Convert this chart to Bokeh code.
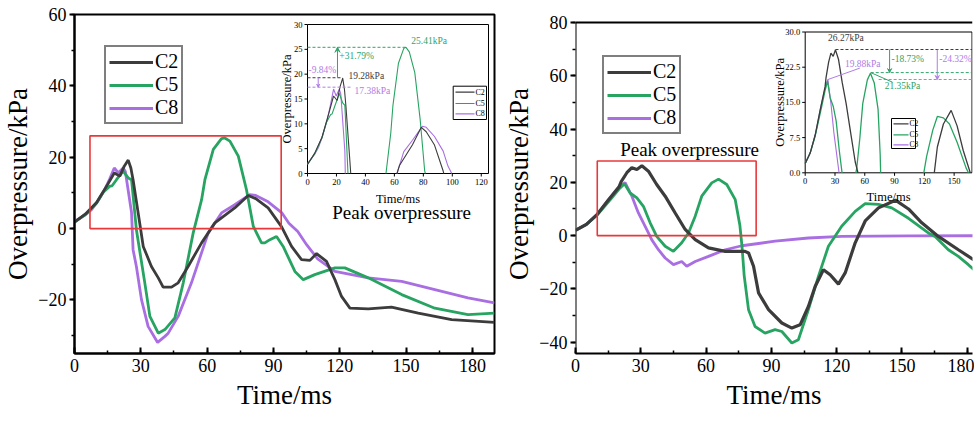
import numpy as np
from bokeh.plotting import figure
from bokeh.models import (Range1d, SingleIntervalTicker, Legend, LegendItem,
                          Arrow, VeeHead, Label, Span)
from bokeh.layouts import row
from bokeh.embed import file_html
from bokeh.resources import INLINE
from bokeh.core.properties import value

FONT = "Liberation Serif"
COL = {"C2": "#3c3c3c", "C5": "#27a462", "C8": "#a96fe2"}
ANN_GREEN = "#2fa36a"
ANN_PURPLE = "#b07de4"
RED = "#e8383a"

SERIES = ["C2", "C5", "C8"]

# ---------------- left panel data (Time/ms, Overpressure/kPa) ----------------
tL_c2 = [0, 5, 10, 15, 18, 20.5, 22.5, 24.3, 25.5, 26.5, 28.8, 31.1, 34.8, 37.9, 40.1, 43.9,
         46.9, 51.4, 57.5, 63.5, 72.5, 78.6, 82, 87.6, 93.7, 98.2, 102.7, 106.5, 109.5, 114,
         117.8, 120.8, 124.6, 132.9, 143.4, 155.5, 170.6, 190]
vL_c2 = [1.8, 4.1, 7.3, 12.4, 15.6, 14.7, 17.5, 19.2, 17.0, 13.7, 4.4, -5.0, -10.6, -13.8, -16.4, -16.4,
         -15.2, -10.6, -4.0, 1.6, 5.8, 9.3, 8.4, 5.8, 0.5, -5.0, -8.7, -8.9, -7.0, -9.2,
         -14.3, -19.0, -22.3, -22.5, -22.0, -23.7, -25.5, -26.3]

tL_c5 = [0, 5, 10, 13, 16, 17, 19, 22, 24.3, 25.8, 28, 31.8, 34.1, 37.9, 40.9, 45.4, 49.2,
         53.7, 57.5, 59, 62.8, 66.5, 68, 70.3, 74.1, 77.8, 80.9, 84.6, 86.1, 88.4, 91.4, 94.4,
         99.7, 103.5, 108.7, 117.8, 122.3, 132.9, 148, 163, 178, 190]
vL_c5 = [1.8, 4.0, 7.2, 10.2, 11.9, 12.0, 13.7, 16.1, 14.2, 13.7, -0.3, -15.2, -24.6, -29.3, -28.3, -25.0, -15.2,
         -1.2, 8.1, 13.7, 22.2, 25.2, 25.4, 24.5, 20.3, 10.9, 0.6, -4.0, -4.0, -3.1, -2.2, -5.0,
         -12.0, -14.3, -12.9, -11.0, -11.0, -13.8, -18.5, -22.3, -24.1, -23.7]

tL_c8 = [0, 5, 7.7, 10, 13.7, 16, 18, 19.8, 22, 23, 25.8, 26.5, 28, 30.3, 33.3, 37.6, 40.9,
         42.4, 46.9, 52.9, 60.5, 66.5, 72.5, 79.3, 82, 87.6, 93.7, 97, 101, 105, 110, 117.8,
         132.9, 148, 163, 178, 190]
vL_c8 = [2.0, 3.9, 5.3, 7.2, 10.9, 14.0, 17.0, 15.6, 17.0, 16.0, 4.5, -5.9, -10.6, -19.9, -27.4, -31.9, -30.2,
         -29.3, -24.6, -15.2, -1.2, 4.4, 6.7, 9.5, 9.3, 7.5, 4.5, 1.5, -0.8, -4.5, -8.5, -12.0,
         -13.8, -14.8, -17.1, -19.4, -20.8]

# ---------------- right panel data ----------------
tR_c2 = [0, 5, 10, 15, 20, 21, 23.6, 25.9, 28.2, 30.5, 33.5, 37.3, 41.2, 45.8, 50.4, 55, 61.1,
         68.8, 77.9, 79.5, 81.8, 84.1, 88.7, 94.8, 99.4, 103.2, 107, 110.1, 113.9, 117, 120.8,
         123.9, 128.5, 133.1, 139.2, 147, 153, 159.1, 166.7, 175.9, 186.6]
vR_c2 = [2.0, 4.2, 8.0, 13.3, 18.3, 20.3, 23.6, 25.5, 24.8, 26.2, 24.2, 19.2, 14.8, 8.5, 2.3, -1.5, -4.6,
         -5.9, -5.9, -6.5, -11.5, -21.5, -27.8, -32.8, -34.7, -33.5, -26.6, -19.1, -12.8, -14.7, -18.2,
         -14.0, -2.7, 5.5, 10.4, 13.3, 10.0, 4.8, -0.3, -5.3, -11.0]

tR_c5 = [0, 5, 10, 12.1, 16.7, 20, 22.5, 25.1, 28.2, 31.2, 34.3, 37.3, 41.2, 45, 48.8, 51.9, 55,
         58, 62.6, 65.7, 69.5, 73.4, 75.5, 76.5, 77.5, 79.5, 82.5, 87.1, 91.7, 94.8, 99.4, 102.4,
         107, 111.6, 116.2, 122.3, 128.5, 133.1, 139.2, 145.3, 153, 162.1, 165.2, 171.3, 175.9,
         180.5, 186.6]
vR_c5 = [2.0, 4.2, 7.8, 9.8, 14.2, 17.5, 19.5, 16.0, 14.2, 11.0, 4.8, -0.3, -4.0, -5.9, -2.7, 1.0, 7.3,
         14.8, 19.8, 21.2, 19.2, 13.5, 4.0, -4.0, -15.0, -27.8, -34.1, -36.6, -35.3, -36.0, -40.3, -39.1,
         -27.8, -15.3, -4.0, 3.5, 9.1, 12.0, 11.7, 10.4, 6.5, 1.0, -0.3, -5.3, -7.8,
         -10.9, -15.5]

tR_c8 = [0, 5, 10.6, 15.2, 19.8, 22.8, 25.9, 28.9, 33.5, 35, 38.1, 41.2, 45, 48.8, 51.1, 55,
         61.1, 68.8, 76.4, 91.7, 107, 122.3, 153, 186.6]
vR_c8 = [2.0, 4.2, 8.5, 13.5, 17.9, 19.9, 14.8, 8.5, 1.0, -1.5, -5.3, -8.4, -10.9, -9.7, -11.5, -9.7,
         -7.8, -5.3, -3.8, -2.1, -0.9, -0.3, -0.1, -0.05]

# peak annotations of the insets
PEAK_L = {"C2": 19.28, "C5": 25.41, "C8": 17.38}
PCT_L = {"C5": "+31.79%", "C8": "-9.84%"}
PEAK_R = {"C2": 26.27, "C5": 21.35, "C8": 19.88}
PCT_R = {"C5": "-18.73%", "C8": "-24.32%"}

# axis ticks / limits
INSET_L_XTICKS = [0, 20, 40, 60, 80, 100, 120]
INSET_L_YTICKS = [0, 5, 10, 15, 20, 25, 30]
INSET_R_XTICKS = [0, 30, 60, 90, 120, 150]
INSET_R_YTICKS = [0, 7.5, 15, 22.5, 30]
YLIM_R = (-45, 80)


def pos_part(t, v):
    xs, ys = [], []
    for i in range(len(t)):
        if i > 0 and ((v[i - 1] > 0) != (v[i] > 0)):
            tc = t[i - 1] + (0 - v[i - 1]) * (t[i] - t[i - 1]) / (v[i] - v[i - 1])
            xs.append(tc); ys.append(0.0)
            if v[i] <= 0:
                xs.append(np.nan); ys.append(np.nan)
        if v[i] > 0:
            xs.append(t[i]); ys.append(v[i])
    return xs, ys


def make_main(fw, fh, xr, yr, bl, bt, br, bb):
    p = figure(frame_width=fw, frame_height=fh, x_range=Range1d(*xr), y_range=Range1d(*yr),
               output_backend="svg", toolbar_location=None,
               min_border_left=bl, min_border_top=bt, min_border_right=br, min_border_bottom=bb)
    p.xgrid.visible = False
    p.ygrid.visible = False
    p.outline_line_color = "black"
    p.outline_line_width = 2
    p.outline_line_alpha = 1
    p.xaxis.ticker = SingleIntervalTicker(interval=30, num_minor_ticks=2)
    p.yaxis.ticker = SingleIntervalTicker(interval=20, num_minor_ticks=2)
    for ax in (p.xaxis[0], p.yaxis[0]):
        ax.axis_line_width = 2
        ax.major_tick_line_width = 2
        ax.minor_tick_line_width = 1.5
        ax.major_label_text_font = FONT
        ax.major_label_text_font_size = "18px"
        ax.major_label_text_color = "black"
        ax.axis_label_text_font = FONT
        ax.axis_label_text_font_size = "27px"
        ax.axis_label_text_font_style = "normal"
        ax.axis_label_text_color = "black"
    xa = p.xaxis[0]
    xa.major_tick_in = 6; xa.major_tick_out = 0
    xa.minor_tick_in = 3; xa.minor_tick_out = 0
    xa.major_label_standoff = 5
    xa.axis_label_standoff = 5
    xa.axis_label = "Time/ms"
    ya = p.yaxis[0]
    ya.major_tick_in = 0; ya.major_tick_out = 5
    ya.minor_tick_in = 0; ya.minor_tick_out = 3
    ya.major_label_standoff = 3
    ya.axis_label_standoff = 2
    ya.axis_label = "Overpressure/kPa"
    return p


def inset_ranges(p, fw, fh, px_l, px_r, px_b, px_t, xr, yr, name):
    x0, x1 = xr
    y0, y1 = yr
    sx = (x1 - x0) / (px_r - px_l)
    sy = (y1 - y0) / (px_t - px_b)
    p.extra_x_ranges[name + "x"] = Range1d(x0 - px_l * sx, x1 + (fw - px_r) * sx)
    p.extra_y_ranges[name + "y"] = Range1d(y0 - px_b * sy, y1 + (fh - px_t) * sy)
    return dict(x_range_name=name + "x", y_range_name=name + "y")


def pixel_range(p, fw, fh, name):
    # frame-relative pixel coordinates (origin at the frame's bottom-left corner)
    p.extra_x_ranges[name + "x"] = Range1d(0, fw)
    p.extra_y_ranges[name + "y"] = Range1d(0, fh)
    return dict(x_range_name=name + "x", y_range_name=name + "y")


def draw_inset_axes(p, rn, xr, yr, xticks, yticks, xlab, ylab, xlab_off, ylab_off):
    p.quad(left=[xr[0]], right=[xr[1]], bottom=[yr[0]], top=[yr[1]], fill_alpha=0,
           line_color="black", line_width=1, **rn)
    p.ray(x=xticks, y=[yr[0]] * len(xticks), length=3, angle=-np.pi / 2, length_units="screen",
          line_color="black", line_width=1, **rn)
    p.ray(x=[xr[0]] * len(yticks), y=yticks, length=3, angle=np.pi, length_units="screen",
          line_color="black", line_width=1, **rn)
    p.text(x=xticks, y=[yr[0]] * len(xticks), text=xlab, y_offset=5, text_align="center",
           text_baseline="top", text_font=value(FONT), text_font_size=value("8.5px"),
           text_color="black", **rn)
    p.text(x=[xr[0]] * len(yticks), y=yticks, text=ylab, x_offset=-5, text_align="right",
           text_baseline="middle", text_font=value(FONT), text_font_size=value("8.5px"),
           text_color="black", **rn)
    p.text(x=[(xr[0] + xr[1]) / 2], y=[yr[0]], text=["Time/ms"], y_offset=xlab_off,
           text_align="center", text_baseline="middle", text_font=value(FONT),
           text_font_size=value("12.5px"), text_color="black", **rn)
    p.text(x=[xr[0]], y=[(yr[0] + yr[1]) / 2], text=["Overpressure/kPa"], x_offset=-ylab_off,
           angle=np.pi / 2, text_align="center", text_baseline="middle", text_font=value(FONT),
           text_font_size=value("12.5px"), text_color="black", **rn)


def inset_legend(p, pr, box, row_y, line_x, fs):
    # small legend of an inset, drawn in frame pixel coordinates
    l, r, b, t = box
    p.quad(left=[l], right=[r], bottom=[b], top=[t], fill_color="white", line_color="black",
           line_width=1, **pr)
    for s, y in zip(SERIES, row_y):
        p.line([line_x[0], line_x[1]], [y, y], line_color=COL[s], line_width=1.2, **pr)
    p.text(x=[line_x[1] + 1] * 3, y=row_y, text=SERIES, text_font=value(FONT),
           text_font_size=value(fs), text_align="left", text_baseline="middle",
           text_color="black", **pr)


def add_legend(p, rends, loc):
    items = [LegendItem(label=s, renderers=[r]) for s, r in zip(SERIES, rends)]
    lg = Legend(items=items, location=loc, glyph_width=44, glyph_height=20, label_height=20,
                label_text_font=FONT, label_text_font_size="20px", label_text_color="black",
                spacing=0, padding=3, margin=0, label_standoff=2,
                border_line_color="black", border_line_width=2, background_fill_alpha=1)
    p.add_layout(lg)


def txt(p, x, y, s, color, size="9.5px", align="left", baseline="middle", rn=None):
    p.text(x=[x], y=[y], text=[s], text_color=color, text_font=value(FONT),
           text_font_size=value(size), text_align=align, text_baseline=baseline, **(rn or {}))


# ======================= LEFT PANEL =======================
FWL, FHL = 420, 339
pL = make_main(FWL, FHL, (0, 190), (-35, 60), 65, 14, 7, 63)
dataL = {"C2": (tL_c2, vL_c2), "C5": (tL_c5, vL_c5), "C8": (tL_c8, vL_c8)}
rL = {}
for s in ["C8", "C5", "C2"]:
    t, v = dataL[s]
    rL[s] = pL.line(t, v, line_color=COL[s], line_width=2.8)
pL.quad(left=[7], right=[93.5], bottom=[0], top=[26], fill_alpha=0, line_color=RED, line_width=1.6)
pL.add_layout(Label(x=148, y=4.5, text="Peak overpressure", text_font=FONT, text_font_size="19px",
                    text_align="center", text_baseline="middle", text_color="black"))
add_legend(pL, [rL[s] for s in SERIES], (30, 229))

# inset (left)
IXL, IYL = (0, 125), (0, 30)
rnL = inset_ranges(pL, FWL, FHL, 233, 414, 180, 329, IXL, IYL, "iL")
pxL = pixel_range(pL, FWL, FHL, "pxL")
draw_inset_axes(pL, rnL, IXL, IYL, INSET_L_XTICKS, INSET_L_YTICKS,
                [str(v) for v in INSET_L_XTICKS], [str(v) for v in INSET_L_YTICKS], 25, 21)
for s in ["C8", "C5", "C2"]:
    xs, ys = pos_part(*dataL[s])
    pL.line(xs, ys, line_color=COL[s], line_width=1.1, **rnL)
inset_legend(pL, pxL, (378.7, 412, 234, 267.3), [261.3, 250, 239.7], (381, 400), "8px")

tpk5 = tL_c5[int(np.argmax(vL_c5))]
tpk2 = tL_c2[int(np.argmax(vL_c2))]
pL.line([0, tpk5], [PEAK_L["C5"]] * 2, line_color=ANN_GREEN, line_width=1, line_dash="3 2", **rnL)
pL.line([0, tpk2], [PEAK_L["C2"]] * 2, line_color=COL["C2"], line_width=1, line_dash="3 2", **rnL)
pL.line([0, 31], [PEAK_L["C8"]] * 2, line_color=ANN_PURPLE, line_width=1, line_dash="3 2", **rnL)
pL.add_layout(Arrow(end=VeeHead(size=5, line_color=ANN_GREEN, fill_color=ANN_GREEN),
                    x_start=20.7, y_start=PEAK_L["C2"], x_end=20.7, y_end=PEAK_L["C5"],
                    line_color=ANN_GREEN, line_width=1, **rnL))
pL.add_layout(Arrow(end=VeeHead(size=3, line_color=ANN_PURPLE, fill_color=ANN_PURPLE),
                    x_start=7.4, y_start=PEAK_L["C2"], x_end=7.4, y_end=PEAK_L["C8"],
                    line_color=ANN_PURPLE, line_width=1, **rnL))
txt(pL, 84, 26.7, "%.2fkPa" % PEAK_L["C5"], ANN_GREEN, align="center", rn=rnL)
txt(pL, 22, 23.7, PCT_L["C5"], ANN_GREEN, rn=rnL)
txt(pL, 28.3, 19.7, "%.2fkPa" % PEAK_L["C2"], COL["C2"], rn=rnL)
txt(pL, 32.5, 16.7, "%.2fkPa" % PEAK_L["C8"], ANN_PURPLE, rn=rnL)
txt(pL, 0.7, 20.9, PCT_L["C8"], ANN_PURPLE, rn=rnL)

# ======================= RIGHT PANEL =======================
# this panel's frame starts 8 px lower than the left one: the extra 8 px above
# the y limit stay empty and the frame's top edge is drawn at YLIM_R[1]
FWR, FHR = 397, 339
PX_PER_KPA_R = 333 / (YLIM_R[1] - YLIM_R[0])
pR = make_main(FWR, FHR, (0, 182.4),
               (YLIM_R[0] + 2 / PX_PER_KPA_R, YLIM_R[1] + 8 / PX_PER_KPA_R), 67, 14, 2, 63)
pR.outline_line_color = None
pR.yaxis[0].axis_line_color = None
pR.segment(x0=[0], y0=[pR.y_range.start], x1=[0], y1=[YLIM_R[1]], line_color="black", line_width=2)
pR.add_layout(Span(location=YLIM_R[1], dimension="width", line_color="black", line_width=2))
dataR = {"C2": (tR_c2, vR_c2), "C5": (tR_c5, vR_c5), "C8": (tR_c8, vR_c8)}
rR = {}
for s in ["C8", "C5", "C2"]:
    t, v = dataR[s]
    rR[s] = pR.line(t, v, line_color=COL[s], line_width=3.2 if s == "C2" else 2.8)
pR.quad(left=[10], right=[83], bottom=[0], top=[28], fill_alpha=0, line_color=RED, line_width=1.6)
pR.add_layout(Label(x=52.4, y=32.3, text="Peak overpressure", text_font=FONT, text_font_size="19px",
                    text_align="center", text_baseline="middle", text_color="black"))
add_legend(pR, [rR[s] for s in SERIES], (27, 219))

IXR, IYR = (0, 168), (0, 30)
rnR = inset_ranges(pR, FWR, FHR, 229.7, 396.5, 180.7, 321.5, IXR, IYR, "iR")
pxR = pixel_range(pR, FWR, FHR, "pxR")
draw_inset_axes(pR, rnR, IXR, IYR, INSET_R_XTICKS, INSET_R_YTICKS,
                [str(v) for v in INSET_R_XTICKS], ["%.1f" % v for v in INSET_R_YTICKS], 24, 25)
for s in ["C8", "C5", "C2"]:
    xs, ys = pos_part(*dataR[s])
    pR.line(xs, ys, line_color=COL[s], line_width=1.3 if s != "C8" else 1.1, **rnR)
inset_legend(pR, pxR, (316, 340, 205, 235), [229.7, 218.7, 208.7], (318, 333), "7.5px")

tpk2r = tR_c2[int(np.argmax(vR_c2))]
pR.line([tpk2r, IXR[1]], [PEAK_R["C2"]] * 2, line_color=COL["C2"], line_width=1, line_dash="3 2", **rnR)
pR.line([66, IXR[1]], [PEAK_R["C5"]] * 2, line_color=ANN_GREEN, line_width=1, line_dash="3 2", **rnR)
pR.line([74, IXR[1]], [PEAK_R["C8"]] * 2, line_color=ANN_PURPLE, line_width=1, line_dash="3 2", **rnR)
pR.line([23, 55], [PEAK_R["C8"], 22.3], line_color=ANN_PURPLE, line_width=1, **rnR)
pR.line([66, 88], [PEAK_R["C5"], 19.3], line_color=ANN_GREEN, line_width=1, **rnR)
pR.add_layout(Arrow(end=VeeHead(size=4, line_color=ANN_GREEN, fill_color=ANN_GREEN),
                    x_start=85, y_start=PEAK_R["C2"], x_end=85, y_end=PEAK_R["C5"],
                    line_color=ANN_GREEN, line_width=1, **rnR))
pR.add_layout(Arrow(end=VeeHead(size=4, line_color=ANN_PURPLE, fill_color=ANN_PURPLE),
                    x_start=133, y_start=PEAK_R["C2"], x_end=133, y_end=PEAK_R["C8"],
                    line_color=ANN_PURPLE, line_width=1, **rnR))
txt(pR, 41, 27.6, "%.2fkPa" % PEAK_R["C2"], COL["C2"], align="center", baseline="bottom", rn=rnR)
txt(pR, 87, 24.3, PCT_R["C5"], ANN_GREEN, rn=rnR)
txt(pR, 135, 24.3, PCT_R["C8"], ANN_PURPLE, rn=rnR)
txt(pR, 40, 23.2, "%.2fkPa" % PEAK_R["C8"], ANN_PURPLE, rn=rnR)
txt(pR, 80, 18.4, "%.2fkPa" % PEAK_R["C5"], ANN_GREEN, rn=rnR)

layout = row(pL, pR)
open("out.html", "w").write(file_html(layout, INLINE))
